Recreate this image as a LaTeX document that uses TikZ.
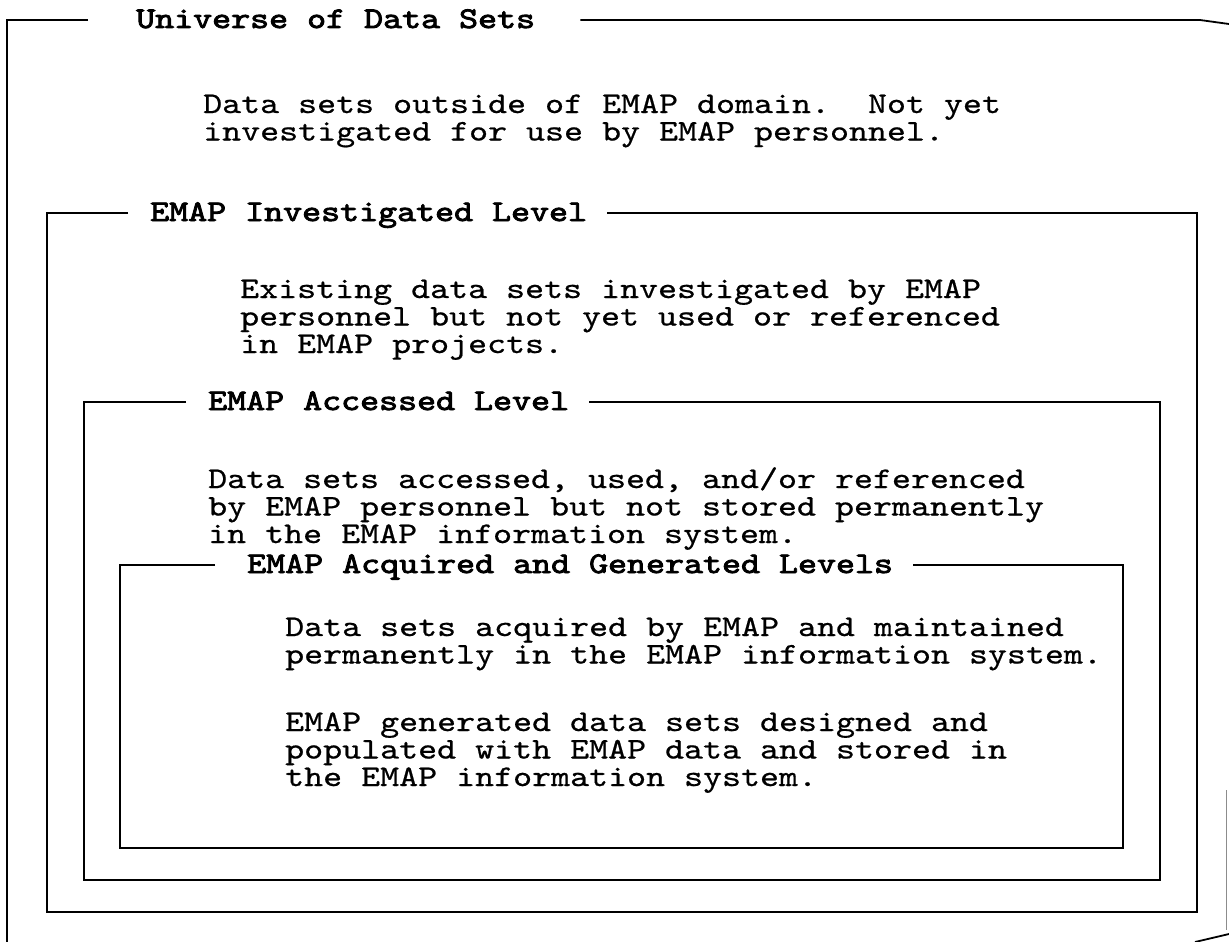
\documentclass[tikz,border=0pt]{standalone}
\usepackage{fontspec}
\newfontfamily\bodytt{lmmono10-regular.otf}[FakeStretch=1.206, FakeBold=0.6]
\newfontfamily\titlett{lmmono10-regular.otf}[FakeStretch=1.206, FakeBold=2.8]
\usetikzlibrary{calc}
\tikzset{
  x=1pt, y=-1pt,
  frame/.style={line width=1.8pt, black, line join=miter},
  ttl/.style={anchor=base west, inner sep=0pt, font=\fontsize{30pt}{27.5pt}\selectfont\titlett\frenchspacing},
  body/.style={anchor=base west, inner sep=0pt, font=\fontsize{30pt}{27.5pt}\selectfont\bodytt\frenchspacing},
}
\begin{document}
\begin{tikzpicture}
\useasboundingbox (0,0) rectangle (1229,942);
% titles
\node[ttl] (t1) at (136,28) {Universe of Data Sets};
\node[ttl] (t2) at (150,221) {EMAP Investigated Level};
\node[ttl] (t3) at (208,410) {EMAP Accessed Level};
\node[ttl] (t4) at (247,573) {EMAP Acquired and Generated Levels};
% body texts
\node[body] (u1) at (203,113) {Data sets outside of EMAP domain.\ \ Not yet};
\node[body] (u2) at (203,140.5) {investigated for use by EMAP personnel.};
\node[body] (i1) at (240,298) {Existing data sets investigated by EMAP};
\node[body] (i2) at (240,325.5) {personnel but not yet used or referenced};
\node[body] (i3) at (240,353) {in EMAP projects.};
\node[body] (a1) at (208,488) {Data sets accessed, used, and/or referenced};
\node[body] (a2) at (208,515.5) {by EMAP personnel but not stored permanently};
\node[body] (a3) at (208,543) {in the EMAP information system.};
\node[body] (g1) at (285,636) {Data sets acquired by EMAP and maintained};
\node[body] (g2) at (285,663.5) {permanently in the EMAP information system.};
\node[body] (h1) at (285,731) {EMAP generated data sets designed and};
\node[body] (h2) at (285,758.5) {populated with EMAP data and stored in};
\node[body] (h3) at (285,786) {the EMAP information system.};
% frame corners
\coordinate (c1) at (7,20);
\coordinate (c2) at (47,213);
\coordinate (d2) at (1197,912);
\coordinate (c3) at (84,402);
\coordinate (d3) at (1160,880);
\coordinate (c4) at (120,565);
\coordinate (d4) at (1123,848);
% universe frame (partly lost at the right and bottom)
\draw[frame] ($(c1 -| t1.west)+(-48,0)$) -- (c1) -- (7,942);
\draw[frame] ($(c1 -| t1.east)+(45,0)$) -- (1200,20) -- (1229,24);
\draw[line width=1pt, black!45] (1226,790) -- (1226,930);
\draw[frame] (1195,942) -- (1229,934);
% investigated frame
\draw[frame] ($(c2 -| t2.west)+(-22,0)$) -- (c2) |- (d2) |- ($(c2 -| t2.east)+(20,0)$);
% accessed frame
\draw[frame] ($(c3 -| t3.west)+(-22,0)$) -- (c3) |- (d3) |- ($(c3 -| t3.east)+(20,0)$);
% acquired frame
\draw[frame] ($(c4 -| t4.west)+(-32,0)$) -- (c4) |- (d4) |- ($(c4 -| t4.east)+(20,0)$);
\end{tikzpicture}
\end{document}
